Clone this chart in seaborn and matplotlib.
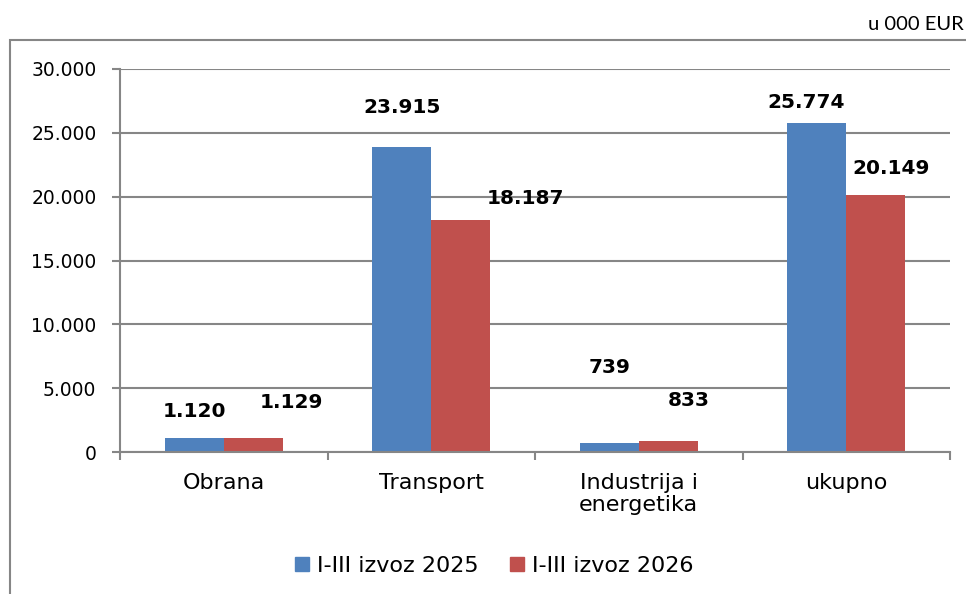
import matplotlib
matplotlib.use("Agg")
import matplotlib.pyplot as plt
import seaborn as sns
import pandas as pd
from matplotlib.patches import Rectangle
from matplotlib.ticker import FuncFormatter, MultipleLocator

categories = ["Obrana", "Transport", "Industrija i\nenergetika", "ukupno"]
series_names = ["I-III izvoz 2025", "I-III izvoz 2026"]
values_2025 = [1120, 23915, 739, 25774]
values_2026 = [1129, 18187, 833, 20149]
unit_label = "u 000 EUR"

# manual label offsets in pixels (dx, dy) like the original chart
offsets_2025 = [(0, 26), (0, 39), (0, 75), (-11, 20)]
offsets_2026 = [(38, 35), (65, 21), (20, 41), (15, 26)]

colors = ["#4F81BD", "#C0504D"]

df = pd.DataFrame({
    "kategorija": categories * 2,
    "serija": [series_names[0]] * 4 + [series_names[1]] * 4,
    "vrijednost": values_2025 + values_2026,
})

sns.set_theme(style="white")
plt.rcParams["font.family"] = ["DejaVu Sans"]

fig = plt.figure(figsize=(9.66, 5.94), dpi=100)
ax = fig.add_axes([120 / 966, 1 - 452 / 594, (950 - 120) / 966, (452 - 69) / 594])

sns.barplot(data=df, x="kategorija", y="vrijednost", hue="serija",
            palette=colors, width=0.57, ax=ax, saturation=1, legend=True,
            linewidth=0, errorbar=None)

ax.set_ylim(0, 30000)
ax.set_xlim(-0.5, 3.5)
ax.yaxis.set_major_locator(MultipleLocator(5000))
ax.yaxis.set_major_formatter(FuncFormatter(lambda v, p: f"{int(v):,}".replace(",", ".")))
ax.set_xlabel("")
ax.set_ylabel("")

grid_c = "#868686"
ax.grid(axis="y", color=grid_c, linewidth=1.5)
ax.set_axisbelow(True)
for s in ["top", "right"]:
    ax.spines[s].set_visible(False)
for s in ["left", "bottom"]:
    ax.spines[s].set_color(grid_c)
    ax.spines[s].set_linewidth(1.5)

ax.set_xticks([0, 1, 2, 3])
ax.set_xticklabels(categories, fontsize=16, color="#000000", linespacing=1.15)
ax.tick_params(axis="x", which="major", length=0, pad=15)
ax.set_xticks([-0.5, 0.5, 1.5, 2.5, 3.5], minor=True)
ax.tick_params(axis="x", which="minor", bottom=True, length=6, width=1.5,
               color=grid_c, direction="out")
ax.tick_params(axis="y", left=True, length=6, width=1.5, color=grid_c, direction="out",
               labelsize=13.5, pad=11, labelcolor="#000000")

# data labels
containers = ax.containers
for cont, vals, offs in zip(containers, [values_2025, values_2026], [offsets_2025, offsets_2026]):
    for bar, v, (dx, dy) in zip(cont, vals, offs):
        x = bar.get_x() + bar.get_width() / 2
        y = bar.get_height()
        ax.annotate(f"{v:,}".replace(",", "."), (x, y), xytext=(dx, dy),
                    textcoords="offset pixels", ha="center", va="center",
                    fontsize=14.5, fontweight="bold", color="#000000",
                    annotation_clip=False)

# legend
ax.legend_.remove()
handles = [plt.Rectangle((0, 0), 1, 1, color=c) for c in colors]
fig.legend(handles, series_names, loc="center", bbox_to_anchor=(0.512, 1 - 566 / 594),
           ncol=2, frameon=False, fontsize=16, handlelength=0.6, handleheight=0.6,
           handletextpad=0.4, columnspacing=1.4, labelcolor="#000000")

# outer frame
fig.patches.append(Rectangle((10 / 966, -0.05), 1.2, 0.05 + 1 - 40 / 594,
                             transform=fig.transFigure, fill=False,
                             edgecolor=grid_c, linewidth=1.5, zorder=0))

fig.text(964 / 966, 1 - 24 / 594, unit_label, ha="right", va="center",
         fontsize=14.5, family="Lato", color="#000000")

fig.savefig("out.png", dpi=100)
